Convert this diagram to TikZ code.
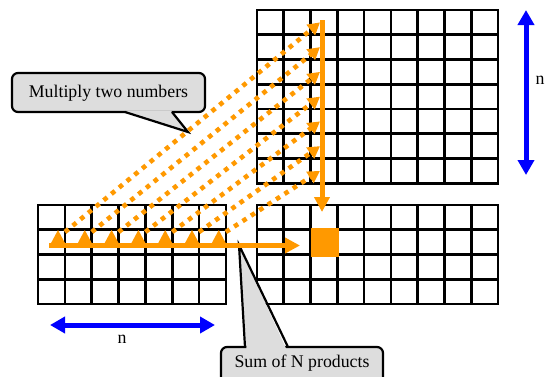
\documentclass[tikz,border=0pt]{standalone}
\usepackage{fontspec}
\setmainfont{Liberation Serif}
\usetikzlibrary{arrows.meta}
\definecolor{org}{HTML}{FF9900}
\definecolor{calgray}{HTML}{DDDDDD}
\definecolor{arrblue}{HTML}{0000FF}
\begin{document}
\begin{tikzpicture}[x=1pt,y=-1pt,
  gridline/.style={line width=2.6pt, black},
  orangearrow/.style={org, line width=5pt, -{Triangle[length=15pt,width=15pt]}},
  dotarrow/.style={org, line width=4.6pt, dash pattern=on 4.6pt off 5.4pt, -{Triangle[length=12pt,width=13pt]}},
  bluearrow/.style={arrblue, line width=5pt, {Triangle[length=15pt,width=16pt]}-{Triangle[length=15pt,width=16pt]}},
  callout/.style={fill=calgray, draw=black, line width=2.2pt},
  lbl/.style={font=\fontsize{17.8}{20}\selectfont, inner sep=0pt}]
\useasboundingbox (0,0) rectangle (548,376);
\clip (0,0) rectangle (548,376);
% grid B (top right)
\foreach \i in {1,...,8} \draw[gridline] ({257+26.78*\i},10) -- ({257+26.78*\i},183.25);
\foreach \j in {1,...,6} \draw[gridline] (257,{10+24.75*\j}) -- (498,{10+24.75*\j});
\draw[gridline] (257,10) rectangle (498,183.25);
% grid C (bottom right)
\foreach \i in {1,...,8} \draw[gridline] ({257+26.78*\i},205) -- ({257+26.78*\i},304);
\foreach \j in {1,...,3} \draw[gridline] (257,{205+24.75*\j}) -- (498,{205+24.75*\j});
\draw[gridline] (257,205) rectangle (498,304);
% grid A (bottom left)
\foreach \i in {1,...,6} \draw[gridline] ({38+26.857*\i},205) -- ({38+26.857*\i},304);
\foreach \j in {1,...,3} \draw[gridline] (38,{205+24.75*\j}) -- (226,{205+24.75*\j});
\draw[gridline] (38,205) rectangle (226,304);
% callout 1
\draw[callout, rounded corners=6pt] (12,73) rectangle (205,112);
\fill[calgray] (126.5,110.7) -- (171,110.7) -- (172,112) -- (188,132) -- (125,112) -- cycle;
\draw[line width=2.2pt] (125,112) -- (188,132) -- (172,112);
\node[lbl] (mult) at (108.5,93) {Multiply two numbers};
% callout 2
\draw[callout, rounded corners=6pt] (221,347) rectangle (383,400);
\fill[calgray] (246.5,349.5) -- (239,245) -- (286.5,349.5) -- cycle;
\draw[line width=2.2pt] (245,347) -- (239,245) -- (288,347);
\node[lbl] (sum) at (302,363) {Sum of N products};
% orange
\coordinate (vtop) at (322,20);
\coordinate (vbot) at (322,212);
\draw[orangearrow] (vtop) -- (vbot);
\coordinate (hl) at (49,245.5);
\coordinate (hr) at (300,245.5);
\draw[orangearrow] (hl) -- (hr);
\node[fill=org, minimum width=28pt, minimum height=29pt, inner sep=0pt] (prod) at (325,242.5) {};
\foreach \i in {0,...,6} {
  \coordinate (b\i) at ({65+26.8*\i},232);
  \coordinate (t\i) at (320,{22.4+24.75*\i});
  \draw[dotarrow] (b\i) -- (t\i);
  \fill[org] ({58+26.8*\i-8},245) -- ({58+26.8*\i},230) -- ({58+26.8*\i+8},245) -- cycle;
}
% blue
\coordinate (vb1) at (526,10);
\coordinate (vb2) at (526,175);
\draw[bluearrow] (vb1) -- (vb2);
\coordinate (hb1) at (50,325);
\coordinate (hb2) at (215,325);
\draw[bluearrow] (hb1) -- (hb2);
\node[lbl] (nv) at (540,80) {n};
\node[lbl] (nh) at (122,339) {n};
\end{tikzpicture}
\end{document}
